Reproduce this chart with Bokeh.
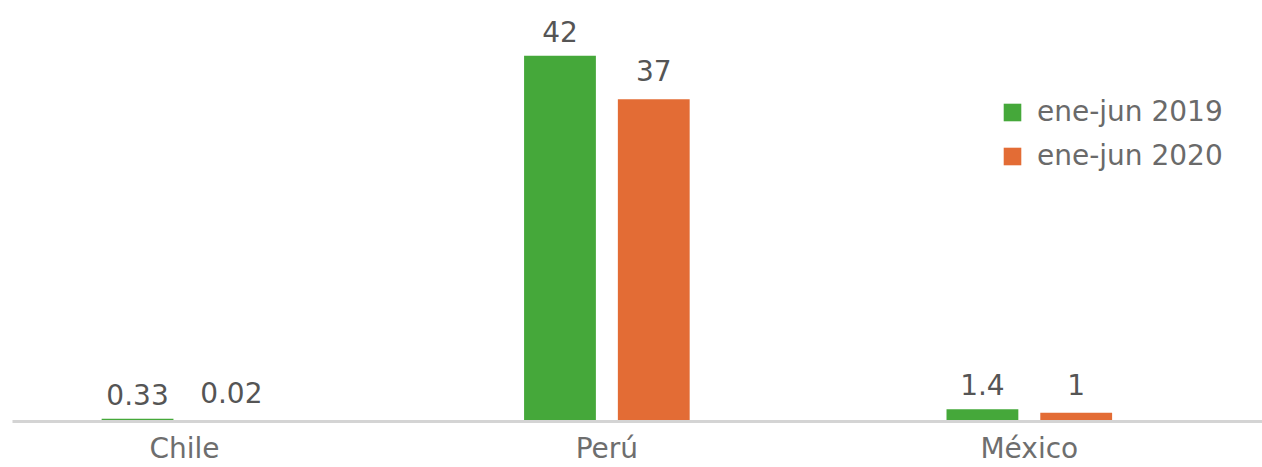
import numpy as np
from bokeh.plotting import figure
from bokeh.models import ColumnDataSource, Range1d, FixedTicker, Legend, LegendItem, LabelSet
from bokeh.transform import dodge
from bokeh.core.properties import value
from bokeh.embed import file_html
from bokeh.resources import INLINE

categories = ["Chile", "Perú", "México"]
series_names = ["ene-jun 2019", "ene-jun 2020"]
values_2019 = [0.33, 42, 1.4]
values_2020 = [0.02, 37, 1]
labels_2019 = ["0.33", "42", "1.4"]
labels_2020 = ["0.02", "37", "1"]

GREEN = "#45a83a"
ORANGE = "#e36c35"
FONT = "DejaVu Sans"

x = np.arange(len(categories)) + 0.5
src = ColumnDataSource(dict(x=x, v19=values_2019, v20=values_2020,
                            l19=labels_2019, l20=labels_2020))

p = figure(width=1262, height=467, output_backend="svg", toolbar_location=None,
           x_range=Range1d(0.093, 3.052), y_range=Range1d(0, 48.35),
           min_border_left=12, min_border_right=0, min_border_top=0, min_border_bottom=0)
p.outline_line_color = None
p.xgrid.visible = False
p.ygrid.visible = False
p.yaxis.visible = False
p.background_fill_color = "white"

off = 0.111
bw = 0.17
r1 = p.vbar(x=dodge("x", -off, range=p.x_range), top="v19", width=bw, source=src,
            fill_color=GREEN, line_color=None)
r2 = p.vbar(x=dodge("x", off, range=p.x_range), top="v20", width=bw, source=src,
            fill_color=ORANGE, line_color=None)

for col, top, o, yo in (("l19", "v19", -off, 14), ("l20", "v20", off, 18)):
    ls = LabelSet(x=dodge("x", o, range=p.x_range), y=top, text=col, source=src,
                  text_align="center", text_baseline="bottom", y_offset=yo,
                  text_font=value(FONT), text_font_size="28px", text_color="#555555")
    p.add_layout(ls)

ax = p.xaxis[0]
ax.ticker = FixedTicker(ticks=list(x))
ax.major_label_overrides = {float(xx): c for xx, c in zip(x, categories)}
ax.major_tick_line_color = None
ax.minor_tick_line_color = None
ax.axis_line_color = "#d4d4d4"
ax.axis_line_width = 3
ax.major_label_standoff = 4
ax.major_label_text_font = FONT
ax.major_label_text_font_size = "28px"
ax.major_label_text_line_height = 1.0
ax.major_label_text_color = "#6e6e6e"

legend = Legend(items=[LegendItem(label=series_names[0], renderers=[r1]),
                       LegendItem(label=series_names[1], renderers=[r2])],
                location=(989, 249), orientation="vertical",
                border_line_color=None, background_fill_alpha=0,
                padding=0, margin=0, spacing=11,
                glyph_width=22, glyph_height=22, label_height=32,
                label_standoff=14,
                label_text_font=FONT, label_text_font_size="28px",
                label_text_color="#6a6a6a")
p.add_layout(legend)

open("out.html", "w").write(file_html(p, INLINE))
